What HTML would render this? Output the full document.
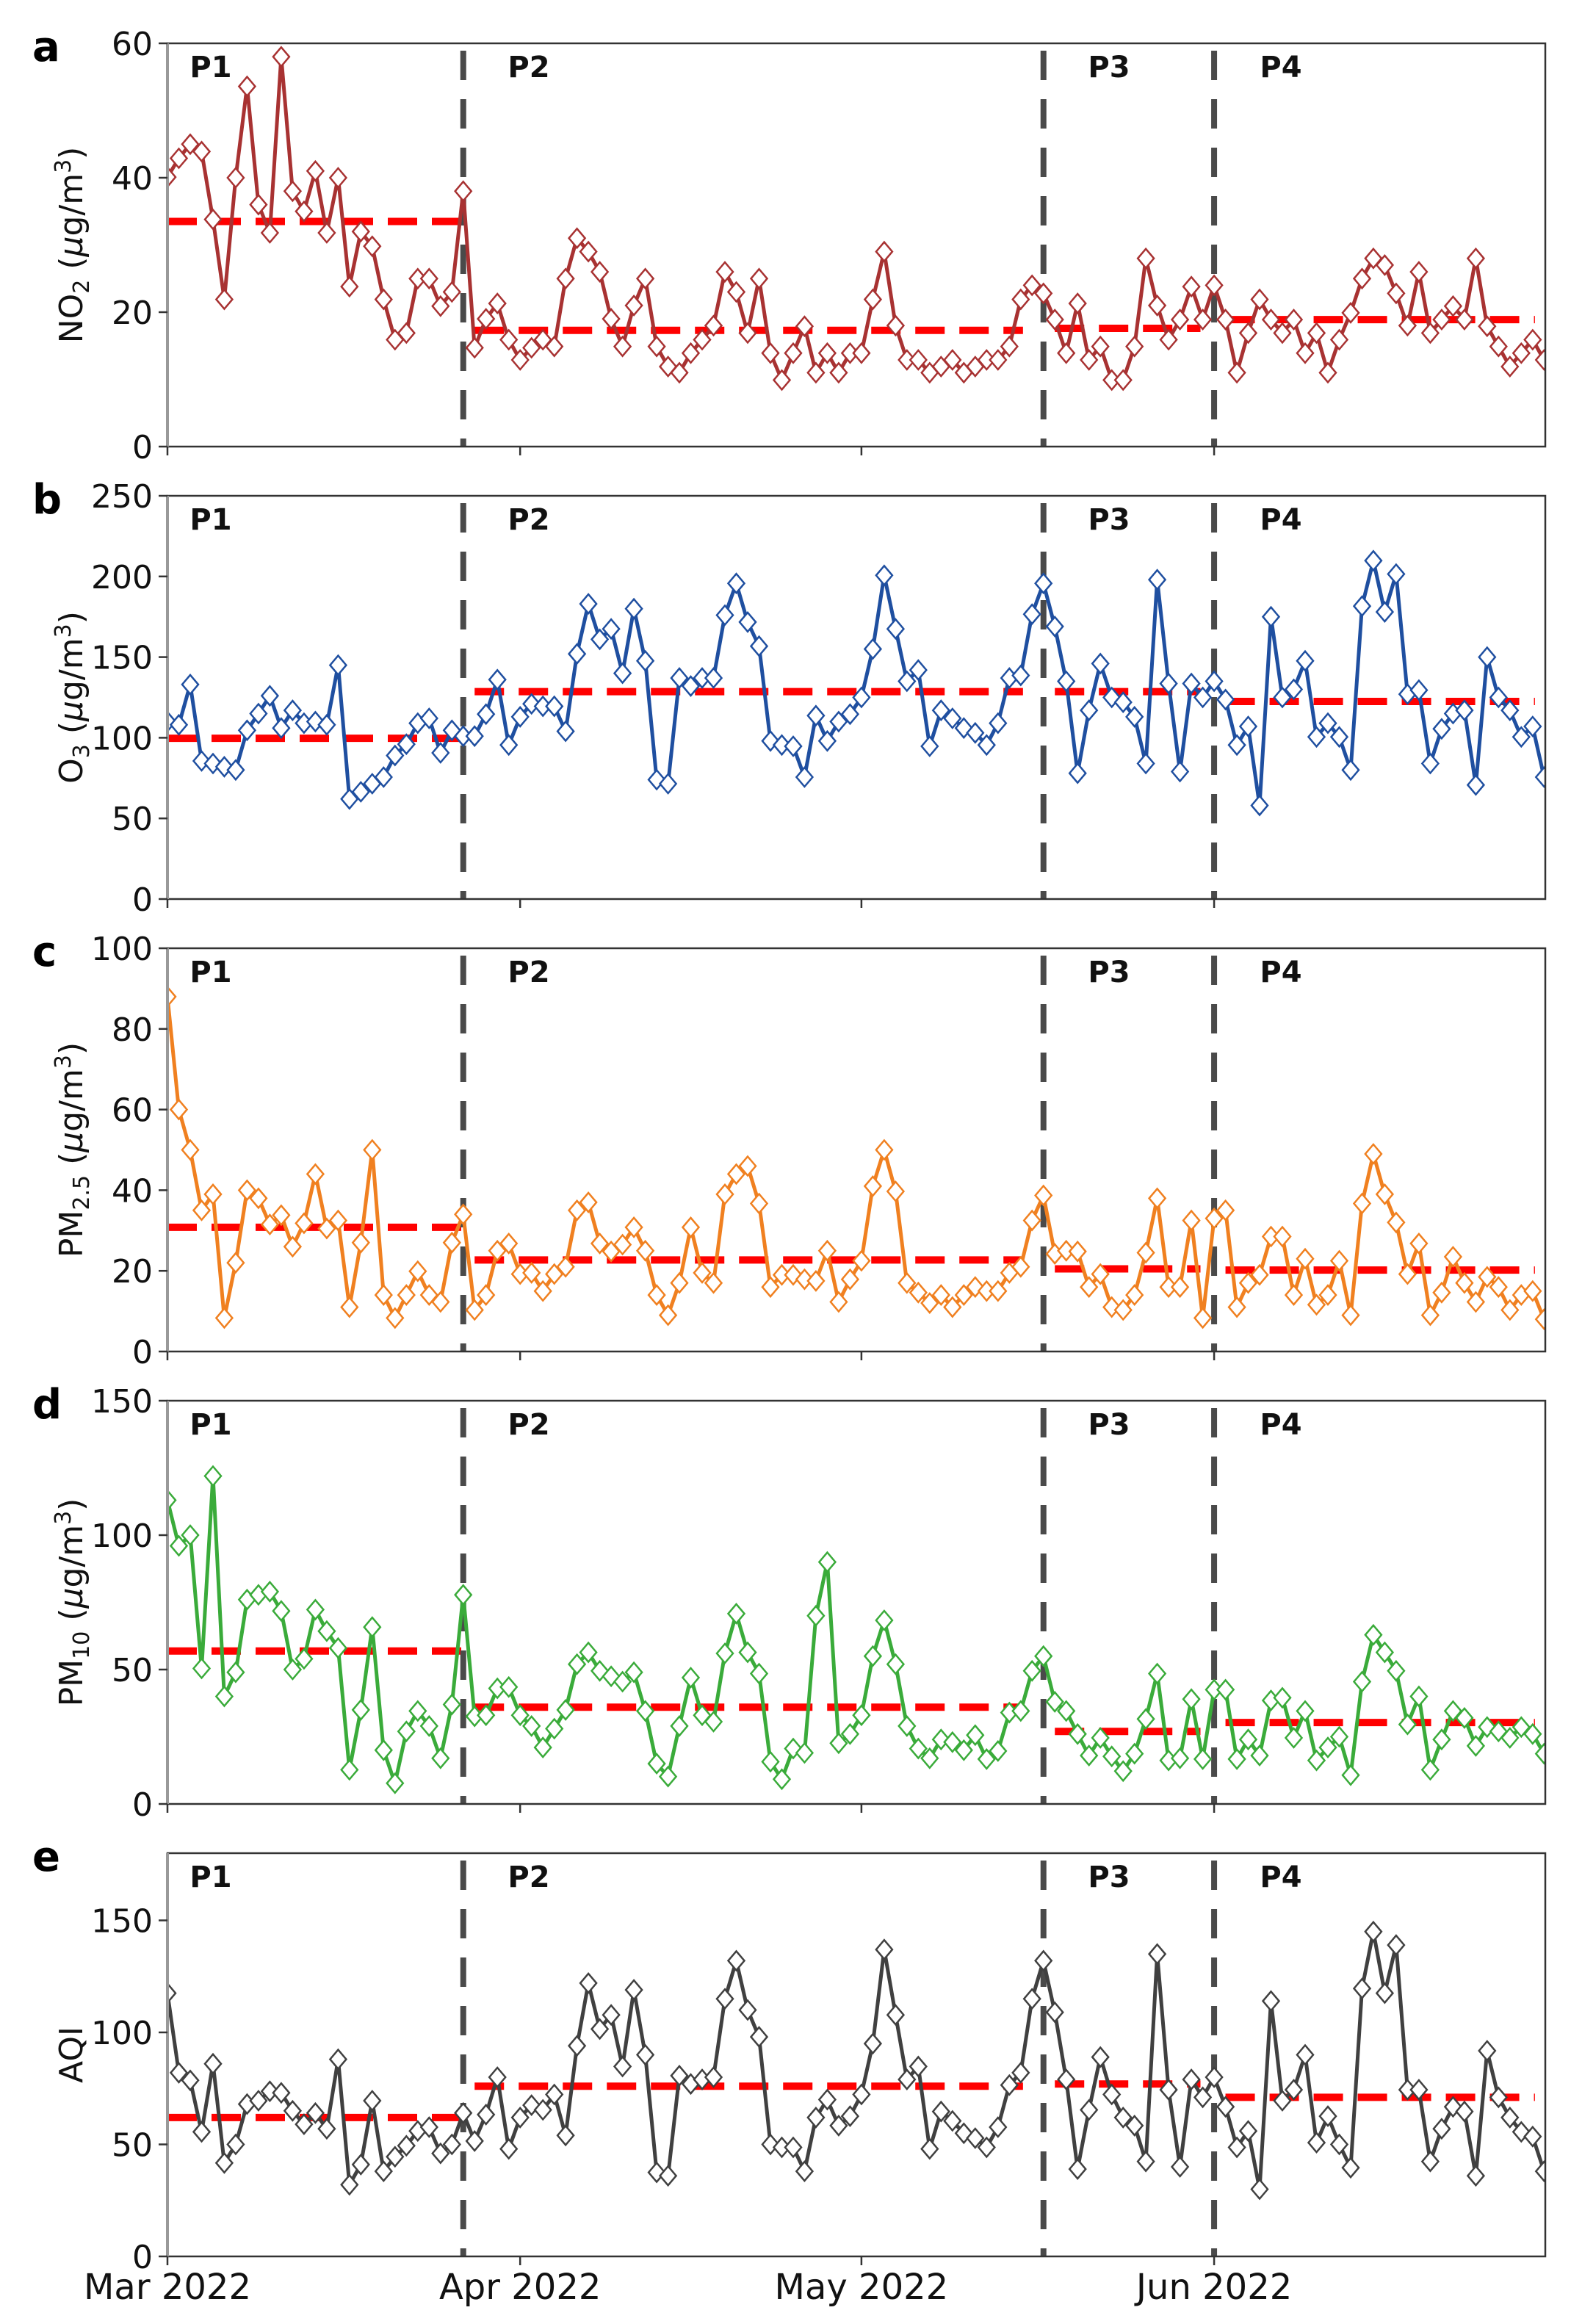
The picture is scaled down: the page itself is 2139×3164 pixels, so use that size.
<!DOCTYPE html>
<html><head><meta charset="utf-8"><style>
html,body{margin:0;padding:0;background:#fff;}
svg{display:block;font-family:"DejaVu Sans","Liberation Sans",sans-serif;}
</style></head><body>
<svg id="c" width="2139" height="3164" viewBox="0 0 2139 3164" xmlns="http://www.w3.org/2000/svg"></svg>
<script>
const L=228,R=2104,DX=15.49;
const X=d=>L+d*DX;
const unit=(sub)=>`<tspan font-size="30" dy="9">${sub}</tspan><tspan dy="-9"> (</tspan><tspan font-style="italic">μ</tspan>g/m<tspan font-size="30" dy="-16">3</tspan><tspan dy="16">)</tspan>`;
const panels=[
{top:59,max:60,ticks:[0,20,40,60],col:"#a83232",letter:"a",lab:'NO'+unit('2'),
means:[33.5,17.3,17.6,18.9],
d:[40.1,42.9,45,43.9,33.8,21.9,40,53.6,36,31.8,58,38,35,41,31.8,40,23.8,32,29.8,21.9,15.9,16.9,25,25,20.9,23,38,14.7,19,21.3,15.9,12.9,14.7,15.9,14.9,25,31,29,26,19,14.9,21,25,14.9,11.9,11,13.9,15.9,18,26,23,16.9,25,13.9,9.9,13.9,17.9,11,13.9,11,13.9,13.9,21.9,29,18,12.9,12.9,11,11.9,12.9,11,11.9,12.9,12.9,14.9,21.9,24,22.8,18.9,13.9,21.3,12.9,14.9,9.9,9.9,14.9,28,21,15.9,18.9,23.8,18.9,24,18.9,11,16.9,21.9,18.9,16.9,18.9,13.9,16.9,11,15.9,19.9,25,28,27,22.8,18,26,16.9,18.9,20.9,18.9,28,17.9,14.9,11.9,13.9,15.9,12.9]},
{top:675,max:250,ticks:[0,50,100,150,200,250],col:"#1f4fa0",letter:"b",lab:'O'+unit('3'),
means:[99.7,128.6,128.6,122.5],
d:[110,108,133,85.6,84,82,80,104.6,115,126,106,117,109,110,108,145,62,66.5,71.5,75.6,89,96,109,112,90.6,104.6,101,101,114.6,136,95.5,113,121,119.5,119.5,104,152,183,161,167.5,140,180,147.7,74,71.5,137,132,137,137,176,195.7,171.7,156.8,98,95.5,94.7,75.6,113.7,98,110,114.6,125,155,200.7,167.5,135,142,94.7,117,112,106,103,95.5,109,137,138.6,176.6,195.7,169,135,78,117,146,125,122,113,84,198,133.6,79,133.6,125,135,123.7,95.5,107,58,175,125,130,147.7,100.5,109,100.5,80,181.6,209.8,178,201.5,127,129.5,84,105.5,115,117,70.7,150,125,117,100.5,107,75.6]},
{top:1291,max:100,ticks:[0,20,40,60,80,100],col:"#f08020",letter:"c",lab:'PM'+unit('2.5'),
means:[30.8,22.7,20.5,20.2],
d:[88,60,50,35,39,8.3,22,40,38,31.5,33.8,26,31.8,44,30.5,32.5,11,27,50,14,8.3,14,19.9,14,12.3,27,34,10.3,14,25,26.8,19.2,19.5,15,19.2,21,35,37,26.8,24.8,26.5,30.8,25,14,9,17,30.8,19.5,17,39,44,46,36.7,16,19,19,17.9,17.5,25,12.3,17.9,22.5,41,50,39.7,17,14.6,12,14,11,14,16,15,15,19.5,21,32.5,38.7,24.2,25,24.8,16,19.2,11,10.3,14,24.5,38,16,16,32.5,8.3,33,35,11,17,19,28.5,28.5,14,23,11.6,14,22.5,9,36.7,49,39,32,19.2,26.8,9,14.6,23.5,17,12.3,18.5,16,10.3,14,15,8]},
{top:1907,max:150,ticks:[0,50,100,150],col:"#3aab3a",letter:"d",lab:'PM'+unit('10'),
means:[56.9,36,27,30.3],
d:[113,96,100,50.4,122,40,49,76,77.8,79,71.8,50,54,72.3,64.3,58,12.7,35,65.8,20,7.7,27,34.6,29,17,37,77.8,32.6,33,43,43.5,33,29,21,28,35,52,56.4,49.5,47.5,45.5,49,34.6,15,10.2,29,47,33,30.6,56,70.8,56.4,48.5,15.7,9.2,20.6,19,70,90,22.6,26,33,55,68.3,52,29,20.6,17,24,23,20,25.6,16.7,19.7,34,34.6,49.5,55,38,34.6,26,18,24.6,17.7,12.2,18.7,31.6,48.5,16.2,17,39,16.7,42.5,42.5,16.7,24,18,38.5,39.5,24.6,34.6,16.2,21,25,10.7,45.5,62.9,56.4,49.5,29.6,40,12.7,24,34.6,32,21.6,28.6,27,24.6,28.6,26,18.7]},
{top:2523,max:180,ticks:[0,50,100,150],col:"#404040",letter:"e",lab:'AQI',
means:[62,76,77,71],
d:[117.5,82,78.6,55.6,86,41.7,50,68,69.5,73.7,73,65,59,64,57,88,32,41,69.5,38,44.5,49.4,56,57.7,46,50,64,51.5,63.3,80,48,62,67.5,65.4,72.3,54,94,122,101.5,107.8,84.8,119,90,37.5,36,80.7,77,79,80,115,132,110,98,50,48.7,48.7,38,62,70,58.4,62.6,72.3,95,137,107.8,79,84.8,48,64.7,60.5,55,52.8,48.7,57.7,76.5,82,115,132,109,79,39,65.4,89,72.3,62,58.4,42.4,135,74.4,40,79,71,80,66.8,48.7,56,30,114,69.5,74.4,90,50.8,62.6,50,39.6,119.6,145,117.5,139,74.4,74.4,42.4,57,66.8,64.7,36,91.8,71,62,55.6,53.5,38]}
];
const H=549;
let s='';
const meanSpans=[[0,26],[27,75.2],[78,90.8],[93,120.2]];
const vlines=[26,77,92];
const plabs=[[287,"P1"],[720,"P2"],[1510,"P3"],[1744,"P4"]];
panels.forEach(p=>{
  const t=p.top,b=t+H;
  const Y=v=>b-v/p.max*H;
  p.means.forEach((m,i)=>{
    const y=Y(m).toFixed(1);
    s+=`<line x1="${X(meanSpans[i][0])}" y1="${y}" x2="${X(meanSpans[i][1])}" y2="${y}" stroke="#ff0000" stroke-width="10" stroke-dasharray="40,20"/>`;
  });
  vlines.forEach(d=>{
    s+=`<line x1="${X(d)}" y1="${t+10}" x2="${X(d)}" y2="${b}" stroke="#4a4a4a" stroke-width="8" stroke-dasharray="40,26"/>`;
  });
  let pts=p.d.map((v,i)=>`${X(i).toFixed(1)},${Y(v).toFixed(1)}`).join(' ');
  s+=`<defs><clipPath id="cp${p.letter}"><rect x="${L}" y="${t}" width="${R-L}" height="${H}"/></clipPath></defs>`;
  s+=`<g clip-path="url(#cp${p.letter})"><polyline points="${pts}" fill="none" stroke="${p.col}" stroke-width="5" stroke-linejoin="round"/>`;
  p.d.forEach((v,i)=>{
    const x=X(i),y=Y(v);
    s+=`<path d="M${x.toFixed(1)},${(y-13).toFixed(1)}L${(x+11).toFixed(1)},${y.toFixed(1)}L${x.toFixed(1)},${(y+13).toFixed(1)}L${(x-11).toFixed(1)},${y.toFixed(1)}Z" fill="#fff" stroke="${p.col}" stroke-width="2.5"/>`;
  });
  s+=`</g>`;
  s+=`<rect x="${L}" y="${t}" width="${R-L}" height="${H}" fill="none" stroke="#333" stroke-width="2.5"/>`;
  s+=`<line x1="${L}" y1="${t}" x2="${L}" y2="${b}" stroke="#999" stroke-width="4"/>`;
  p.ticks.forEach(v=>{
    const y=Y(v);
    s+=`<line x1="${L-12}" y1="${y}" x2="${L}" y2="${y}" stroke="#333" stroke-width="2.5"/>`;
    s+=`<text x="${L-20}" y="${y+16}" font-size="44" text-anchor="end" fill="#111">${v}</text>`;
  });
  [0,31,61,92].forEach(d=>{s+=`<line x1="${X(d)}" y1="${b}" x2="${X(d)}" y2="${b+12}" stroke="#333" stroke-width="2.5"/>`;});
  s+=`<text x="44" y="${t+24}" font-size="56" font-weight="bold" fill="#000">${p.letter}</text>`;
  plabs.forEach(q=>{s+=`<text x="${q[0]}" y="${t+46}" font-size="40" font-weight="bold" text-anchor="middle" fill="#111">${q[1]}</text>`;});
  s+=`<text transform="translate(112,${t+H/2}) rotate(-90)" font-size="44" text-anchor="middle" fill="#111">${p.lab}</text>`;
});
[[0,"Mar 2022"],[31,"Apr 2022"],[61,"May 2022"],[92,"Jun 2022"]].forEach(q=>{
  s+=`<text x="${X(q[0])}" y="3130" font-size="48" text-anchor="middle" fill="#111">${q[1]}</text>`;
});
document.getElementById('c').innerHTML=s;
</script>
</body></html>
